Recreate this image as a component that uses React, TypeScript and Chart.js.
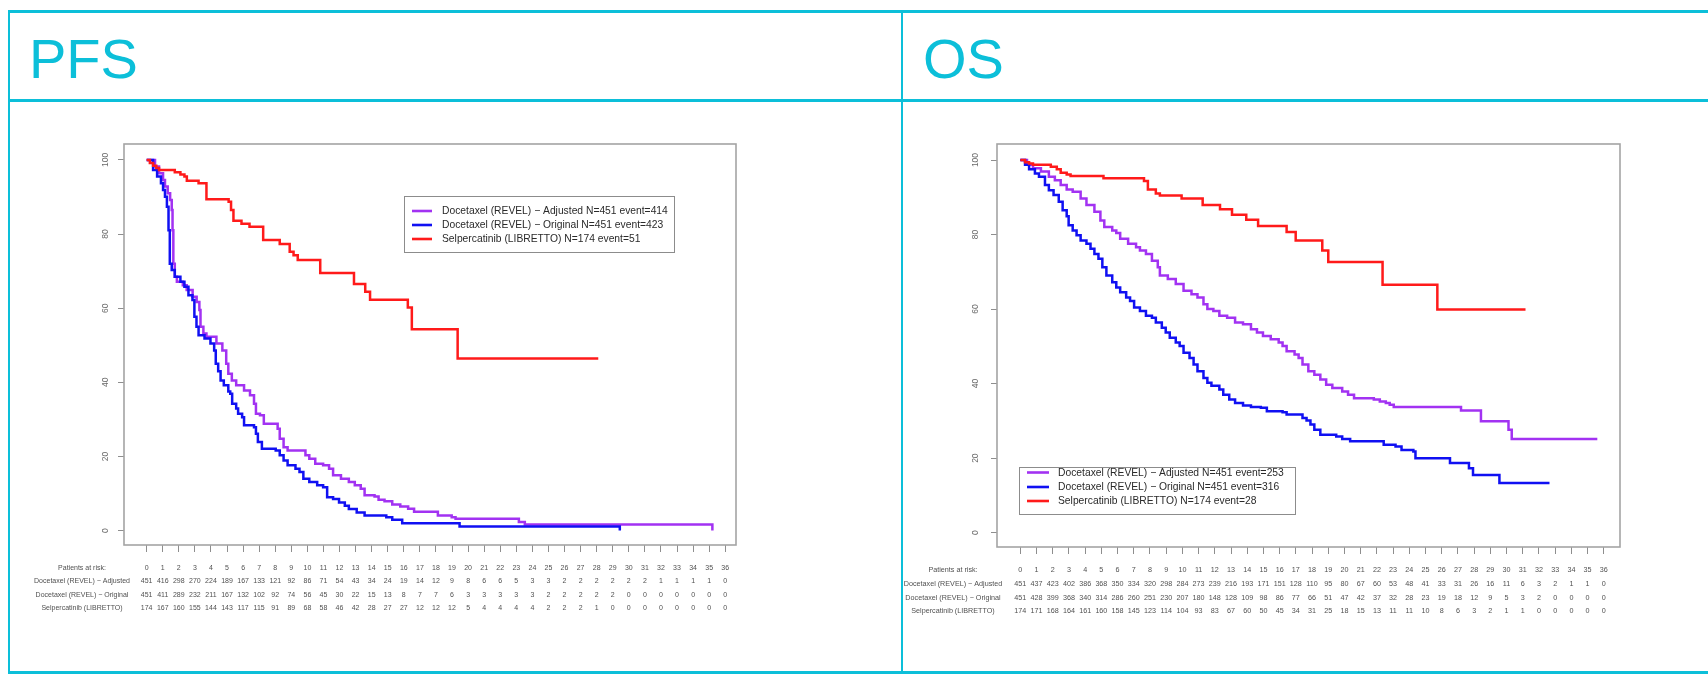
import React, { useEffect, useRef } from "react";
import { Chart, registerables } from "chart.js";

Chart.register(...registerables);

// ---------------- data ----------------
const monthTicks = [0, 1, 2, 3, 4, 5, 6, 7, 8, 9, 10, 11, 12, 13, 14, 15, 16, 17, 18, 19, 20, 21, 22, 23, 24, 25, 26, 27, 28, 29, 30, 31, 32, 33, 34, 35, 36];
const survivalTicks = [0, 20, 40, 60, 80, 100];

const riskRowLabels = ["Docetaxel (REVEL) \u2212 Adjusted", "Docetaxel (REVEL) \u2212 Original", "Selpercatinib (LIBRETTO)"];
const pfsLegend = [
  "Docetaxel (REVEL) \u2212 Adjusted N=451 event=414",
  "Docetaxel (REVEL) \u2212 Original N=451 event=423",
  "Selpercatinib (LIBRETTO) N=174 event=51",
];
const osLegend = [
  "Docetaxel (REVEL) \u2212 Adjusted N=451 event=253",
  "Docetaxel (REVEL) \u2212 Original N=451 event=316",
  "Selpercatinib (LIBRETTO) N=174 event=28",
];

// PFS curves: [month, survival %]
const pfsAdjusted = [
  [0, 100], [0.52, 98.2], [0.77, 96.4], [1.02, 94.6], [1.14, 92.8], [1.31, 91], [1.46, 89.2], [1.56, 86.5], [1.61, 81], [1.66, 72],
  [1.75, 68.5], [1.88, 67.1], [2.25, 66.2], [2.49, 64.9], [2.86, 63.1], [3.11, 61.7], [3.28, 59.5], [3.35, 55], [3.53, 53.2], [3.72, 52.3],
  [4.34, 50.5], [4.71, 48.6], [4.95, 45], [5.08, 42.3], [5.3, 40.5], [5.57, 39.2], [6.06, 37.8], [6.43, 36.5], [6.68, 34.2], [6.8, 31.5],
  [7.05, 31.1], [7.29, 28.8], [8.15, 27.5], [8.28, 24.8], [8.52, 22.5], [8.77, 21.6], [9.88, 20.3], [10.12, 19.4], [10.49, 18], [10.98, 17.6],
  [11.35, 16.7], [11.6, 14.9], [12.09, 14], [12.58, 13.1], [12.95, 12.2], [13.32, 11.3], [13.56, 9.5], [14.18, 9.2], [14.43, 8.3], [14.8, 7.9],
  [15.28, 7.0], [15.78, 6.5], [16.27, 5.9], [16.64, 5.1], [18.12, 4.05], [18.98, 3.6], [19.22, 3.2], [23.16, 2.3], [23.53, 1.6], [35.2, 0],
];
const pfsOriginal = [
  [0, 100], [0.4, 97.3], [0.65, 95.5], [0.89, 93.7], [1.02, 91.9], [1.14, 90.1], [1.26, 87.4], [1.36, 81], [1.44, 72], [1.56, 70.3],
  [1.75, 68.5], [2.1, 67.1], [2.35, 65.8], [2.6, 63.5], [2.85, 62.2], [2.97, 57.7], [3.1, 55], [3.23, 52.7], [3.6, 51.8], [3.97, 50.5],
  [4.2, 48.6], [4.3, 45], [4.45, 43], [4.6, 40.5], [4.8, 39.2], [5.08, 37.5], [5.2, 36.9], [5.32, 34.2], [5.57, 32.9], [5.69, 31.5],
  [5.94, 30.6], [6.06, 28.4], [6.68, 27.9], [6.8, 26.1], [6.92, 23.9], [7.17, 22.1], [8.03, 21.6], [8.28, 20.3], [8.52, 18.9], [8.77, 17.6],
  [9.26, 16.7], [9.51, 15.8], [9.75, 14], [10.12, 13.1], [10.61, 12.2], [10.98, 11.7], [11.23, 9], [11.6, 8.5], [11.97, 7.6], [12.33, 6.7],
  [12.58, 5.8], [13.07, 4.9], [13.56, 4.05], [14.91, 3.6], [15.28, 2.9], [15.9, 2.0], [19.47, 1.08], [29.44, 0],
];
const pfsSelpercatinib = [
  [0, 100], [0.2, 99.2], [0.4, 98.4], [0.6, 97.8], [0.77, 97.3], [1.75, 96.7], [2.1, 96.1], [2.35, 95.5], [2.5, 94.4], [3.23, 93.7],
  [3.72, 89.4], [5.1, 88.7], [5.25, 86.5], [5.4, 83.6], [5.9, 82.8], [6.4, 82], [7.25, 78.4], [8.28, 77.3], [8.9, 75.2], [9.14, 74.3],
  [9.4, 73], [10.8, 69.5], [12.9, 66.5], [13.6, 64.4], [13.9, 62.3], [16.25, 60.2], [16.5, 54.3], [19.35, 46.4], [28.1, 46.4],
];

// OS curves
const osAdjusted = [
  [0, 100], [0.41, 98.7], [0.78, 97.8], [1.27, 96.9], [1.76, 95.5], [2.13, 94.6], [2.49, 93.3], [2.86, 92.1], [3.23, 91.5], [3.72, 89.7],
  [4.08, 87.9], [4.57, 86.1], [4.94, 83.8], [5.18, 82], [5.67, 81.1], [5.92, 80.4], [6.16, 78.9], [6.65, 77.5], [7.14, 76.6], [7.38, 75.7],
  [7.75, 74.8], [8.12, 73], [8.48, 71.2], [8.61, 69], [9.1, 68.1], [9.59, 66.7], [10.07, 64.9], [10.56, 64], [10.93, 63.1], [11.3, 61.3],
  [11.54, 60], [11.91, 59.5], [12.28, 58.2], [12.76, 57.7], [13.25, 56.4], [13.74, 55.9], [14.23, 54.6], [14.6, 53.7], [14.97, 52.8], [15.45, 51.9],
  [15.94, 51], [16.18, 50.1], [16.43, 48.7], [16.92, 47.8], [17.17, 46.9], [17.41, 45.1], [17.77, 43.3], [18.14, 42.4], [18.51, 41.1], [18.87, 39.7],
  [19.25, 38.8], [19.86, 37.9], [20.22, 37], [20.59, 36.1], [21.81, 35.7], [22.18, 35.2], [22.55, 34.8], [22.79, 34.3], [23.04, 33.7], [27.19, 32.8],
  [28.42, 29.9], [30.12, 27.6], [30.32, 25.1], [35.6, 25.1],
];
const osOriginal = [
  [0, 100], [0.29, 98.7], [0.54, 97.5], [0.9, 96.4], [1.15, 95.5], [1.52, 93.3], [1.76, 91.9], [2.05, 90.6], [2.37, 88.8], [2.61, 86.5],
  [2.86, 84.9], [2.98, 82.5], [3.23, 81.1], [3.47, 79.8], [3.72, 78.4], [4.08, 77.5], [4.33, 76.2], [4.57, 74.8], [4.82, 73.5], [5.06, 71.2],
  [5.31, 69], [5.67, 67.2], [5.92, 65.8], [6.16, 64.5], [6.53, 63.1], [6.77, 62.2], [7.02, 60.4], [7.38, 59.5], [7.75, 58.2], [8.12, 57.7],
  [8.36, 56.4], [8.73, 55], [8.97, 53.7], [9.22, 52.3], [9.59, 51], [9.83, 50.1], [10.07, 48.3], [10.44, 46.9], [10.69, 45.1], [10.93, 43.3],
  [11.3, 41.5], [11.54, 40.2], [11.79, 39.4], [12.28, 38.4], [12.52, 37], [12.89, 35.7], [13.25, 34.8], [13.74, 34.1], [14.23, 33.7], [14.84, 33.5],
  [15.21, 32.6], [16.18, 32.3], [16.43, 31.7], [17.41, 30.8], [17.66, 30.1], [17.9, 29], [18.14, 27.6], [18.51, 26.3], [19.49, 25.8], [19.86, 25.1],
  [20.35, 24.5], [22.42, 23.6], [23.15, 23.1], [23.52, 22.2], [24.25, 21.8], [24.38, 20], [26.51, 18.7], [27.68, 17.3], [27.93, 15.5], [29.56, 13.3],
  [32.65, 13.3],
];
const osSelpercatinib = [
  [0, 100], [0.29, 99.4], [0.54, 99.1], [0.78, 98.7], [1.88, 98.2], [2.25, 97.5], [2.49, 96.6], [2.86, 96.1], [3.1, 95.7], [5.13, 95.1],
  [7.63, 94.4], [7.87, 92.1], [8.36, 91], [8.61, 90.5], [9.95, 89.7], [11.25, 87.9], [12.32, 86.8], [13.06, 85.3], [13.94, 84], [14.67, 82.3],
  [16.43, 80.7], [16.99, 78.4], [18.63, 75.7], [19.0, 72.6], [22.35, 66.5], [25.73, 59.9], [31.17, 59.9],
];

// Patients at risk (months 0..36)
const pfsRiskAdjusted = [451, 416, 298, 270, 224, 189, 167, 133, 121, 92, 86, 71, 54, 43, 34, 24, 19, 14, 12, 9, 8, 6, 6, 5, 3, 3, 2, 2, 2, 2, 2, 2, 1, 1, 1, 1, 0];
const pfsRiskOriginal = [451, 411, 289, 232, 211, 167, 132, 102, 92, 74, 56, 45, 30, 22, 15, 13, 8, 7, 7, 6, 3, 3, 3, 3, 3, 2, 2, 2, 2, 2, 0, 0, 0, 0, 0, 0, 0];
const pfsRiskSelpercatinib = [174, 167, 160, 155, 144, 143, 117, 115, 91, 89, 68, 58, 46, 42, 28, 27, 27, 12, 12, 12, 5, 4, 4, 4, 4, 2, 2, 2, 1, 0, 0, 0, 0, 0, 0, 0, 0];
const osRiskAdjusted = [451, 437, 423, 402, 386, 368, 350, 334, 320, 298, 284, 273, 239, 216, 193, 171, 151, 128, 110, 95, 80, 67, 60, 53, 48, 41, 33, 31, 26, 16, 11, 6, 3, 2, 1, 1, 0];
const osRiskOriginal = [451, 428, 399, 368, 340, 314, 286, 260, 251, 230, 207, 180, 148, 128, 109, 98, 86, 77, 66, 51, 47, 42, 37, 32, 28, 23, 19, 18, 12, 9, 5, 3, 2, 0, 0, 0, 0];
const osRiskSelpercatinib = [174, 171, 168, 164, 161, 160, 158, 145, 123, 114, 104, 93, 83, 67, 60, 50, 45, 34, 31, 25, 18, 15, 13, 11, 11, 10, 8, 6, 3, 2, 1, 1, 0, 0, 0, 0, 0];

// ---------------- styles ----------------
const CYAN = "#0cbfd9";
const COLORS = ["#a232f2", "#1010f2", "#ff1a1a"];
const FONT = '"Liberation Sans", Arial, Helvetica, sans-serif';

type Panel = {
  curves: number[][][];
  labels: string[];
  risk: number[][];
  w: number;
  h: number;
  area: { left: number; top: number; right: number; bottom: number };
  xMin: number;
  xMax: number;
  yMin: number;
  yMax: number;
  yLabelGap: number;
  legend: { left: number; top: number; width: number; height: number; rowY: number[]; lineX0: number; lineX1: number; textX: number };
  riskLabelX: number;
  riskRowY: number[];
  riskFont: number;
};

function KMChart(p: Panel) {
  const ref = useRef<HTMLCanvasElement>(null);
  useEffect(() => {
    const canvas = ref.current;
    if (!canvas) return;
    const decor = {
      id: "kmDecor",
      afterDraw(chart: any) {
        const ctx = chart.ctx as CanvasRenderingContext2D;
        const ca = chart.chartArea;
        const xs = chart.scales.x;
        const ys = chart.scales.y;
        ctx.save();
        // plot frame
        ctx.strokeStyle = "#a4a4a4";
        ctx.lineWidth = 1.6;
        ctx.strokeRect(ca.left, ca.top, ca.right - ca.left, ca.bottom - ca.top);
        // y tick labels (rotated, R style)
        ctx.fillStyle = "#6a6a6a";
        ctx.font = `8.5px ${FONT}`;
        ctx.textAlign = "center";
        ctx.textBaseline = "middle";
        survivalTicks.forEach((v) => {
          ctx.save();
          ctx.translate(ca.left - p.yLabelGap, ys.getPixelForValue(v));
          ctx.rotate(-Math.PI / 2);
          ctx.fillText(String(v), 0, 0);
          ctx.restore();
        });
        // legend box
        const L = p.legend;
        ctx.fillStyle = "#ffffff";
        ctx.fillRect(L.left, L.top, L.width, L.height);
        ctx.strokeStyle = "#8c8c8c";
        ctx.lineWidth = 1;
        ctx.strokeRect(L.left + 0.5, L.top + 0.5, L.width, L.height);
        ctx.font = `10.3px ${FONT}`;
        ctx.textAlign = "left";
        p.labels.forEach((lab, i) => {
          const y = L.rowY[i];
          ctx.strokeStyle = COLORS[i];
          ctx.lineWidth = 2.6;
          ctx.beginPath();
          ctx.moveTo(L.lineX0, y);
          ctx.lineTo(L.lineX1, y);
          ctx.stroke();
          ctx.fillStyle = "#2a2a2a";
          ctx.fillText(lab, L.textX, y + 0.5);
        });
        // risk table
        ctx.font = `${p.riskFont}px ${FONT}`;
        ctx.fillStyle = "#505050";
        ctx.textAlign = "center";
        ctx.fillText("Patients at risk:", p.riskLabelX, p.riskRowY[0]);
        monthTicks.forEach((m) => ctx.fillText(String(m), xs.getPixelForValue(m), p.riskRowY[0]));
        p.risk.forEach((row, r) => {
          const y = p.riskRowY[r + 1];
          ctx.fillText(riskRowLabels[r], p.riskLabelX, y);
          row.forEach((n, i) => ctx.fillText(String(n), xs.getPixelForValue(monthTicks[i]), y));
        });
        ctx.restore();
      },
    };
    const datasets = p.curves
      .map((c, i) => ({
        label: p.labels[i],
        data: c.map(([x, y]) => ({ x, y })),
        borderColor: COLORS[i],
        backgroundColor: COLORS[i],
        borderWidth: 2.5,
        pointRadius: 0,
        stepped: "before" as const,
        fill: false,
        tension: 0,
      }))
      .reverse();
    const chart = new Chart(canvas, {
      type: "line",
      data: { datasets },
      options: {
        animation: false,
        responsive: false,
        devicePixelRatio: 1,
        events: [],
        layout: { padding: { left: 0, top: p.area.top, right: p.w - p.area.right, bottom: 0 } },
        plugins: { legend: { display: false }, tooltip: { enabled: false } },
        scales: {
          x: {
            type: "linear",
            min: p.xMin,
            max: p.xMax,
            afterBuildTicks: (s: any) => {
              s.ticks = monthTicks.map((v) => ({ value: v }));
            },
            afterFit: (s: any) => {
              s.height = p.h - p.area.bottom;
            },
            ticks: { display: false },
            grid: { drawOnChartArea: false, drawTicks: true, tickLength: 7, color: "#8e8e8e", lineWidth: 1 },
            border: { display: false },
          },
          y: {
            type: "linear",
            min: p.yMin,
            max: p.yMax,
            afterBuildTicks: (s: any) => {
              s.ticks = survivalTicks.map((v) => ({ value: v }));
            },
            afterFit: (s: any) => {
              s.width = p.area.left;
            },
            ticks: { display: false },
            grid: { drawOnChartArea: false, drawTicks: true, tickLength: 6, color: "#8e8e8e", lineWidth: 1 },
            border: { display: false },
          },
        },
      },
      plugins: [decor],
    } as any);
    return () => chart.destroy();
  }, []);
  return <canvas ref={ref} width={p.w} height={p.h} style={{ display: "block", width: p.w, height: p.h }} />;
}

const pfsPanel: Panel = {
  curves: [pfsAdjusted, pfsOriginal, pfsSelpercatinib],
  labels: pfsLegend,
  risk: [pfsRiskAdjusted, pfsRiskOriginal, pfsRiskSelpercatinib],
  w: 890,
  h: 568,
  area: { left: 114, top: 41, right: 726, bottom: 442 },
  xMin: -1.41,
  xMax: 36.67,
  yMin: -3.9,
  yMax: 104.3,
  yLabelGap: 18,
  legend: { left: 394, top: 93, width: 270, height: 56, rowY: [108, 122, 136], lineX0: 402, lineX1: 422, textX: 432 },
  riskLabelX: 72,
  riskRowY: [465, 478, 492, 505],
  riskFont: 7,
};

const osPanel: Panel = {
  curves: [osAdjusted, osOriginal, osSelpercatinib],
  labels: osLegend,
  risk: [osRiskAdjusted, osRiskOriginal, osRiskSelpercatinib],
  w: 805,
  h: 568,
  area: { left: 94, top: 41, right: 717, bottom: 444 },
  xMin: -1.44,
  xMax: 37.0,
  yMin: -3.85,
  yMax: 104.3,
  yLabelGap: 21,
  legend: { left: 116, top: 364, width: 276, height: 47, rowY: [369.5, 384, 398], lineX0: 124, lineX1: 146, textX: 155 },
  riskLabelX: 50,
  riskRowY: [467, 481, 495, 508],
  riskFont: 7.2,
};

export default function App() {
  const bar = (left: number, top: number, width: number, height: number) => (
    <div style={{ position: "absolute", left, top, width, height, background: CYAN }} />
  );
  const head: React.CSSProperties = {
    position: "absolute",
    fontFamily: FONT,
    fontSize: 56,
    lineHeight: "56px",
    color: CYAN,
    whiteSpace: "nowrap",
  };
  return (
    <div style={{ position: "absolute", left: 0, top: 0, width: 1708, height: 676, overflow: "hidden", background: "#ffffff" }}>
      <div style={{ position: "absolute", left: 10, top: 103 }}>
        <KMChart {...pfsPanel} />
      </div>
      <div style={{ position: "absolute", left: 903, top: 103 }}>
        <KMChart {...osPanel} />
      </div>
      <div style={{ ...head, left: 29, top: 31 }}>PFS</div>
      <div style={{ ...head, left: 923, top: 31 }}>OS</div>
      {bar(8, 10, 1700, 3)}
      {bar(8, 99, 1700, 3)}
      {bar(8, 671, 1700, 3)}
      {bar(8, 10, 2, 664)}
      {bar(901, 10, 2, 664)}
    </div>
  );
}
